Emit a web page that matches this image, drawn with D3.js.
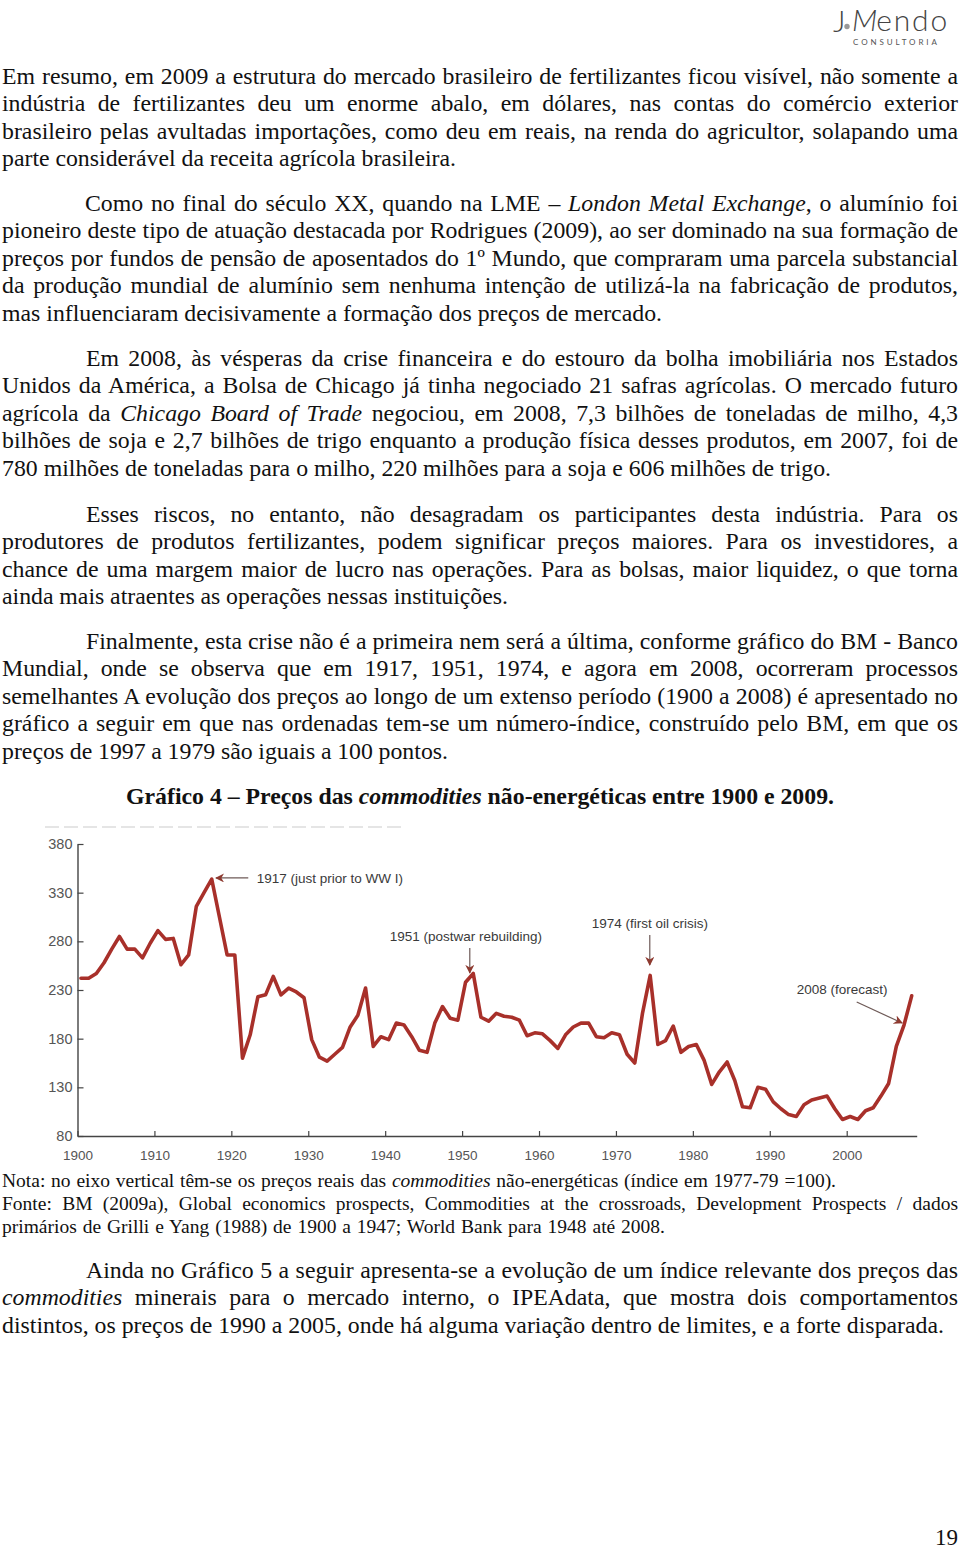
<!DOCTYPE html>
<html><head><meta charset="utf-8">
<script src="https://cdn.jsdelivr.net/npm/d3@7"></script>
<style>html,body{margin:0;padding:0;background:#fff;} svg{display:block;}</style>
</head><body>
<svg id="page" width="960" height="1550"></svg>
<script>
// ---------- DATA ----------
const startYear = 1900;
const priceIndex = [
 242,242,247,258,272,285,272,272,263,278,
 291,282,283,256,266,316,330,344,305,266,
 266,160,184,223,225,244,225,232,228,222,
 179,161,157,164,171,192,204,232,172,182,
 179,196,194,182,168,166,196,213,201,199,
 238,247,202,198,206,203,202,199,183,186,
 185,178,170,184,192,196,196,182,181,186,
 184,164,155,206,245,174,178,193,166,172,
 174,158,133,146,156,137,110,109,130,128,
 115,108,102,100,112,117,119,121,108,97,
 100,97,106,109,121,134,172,194,224
];
const yTicks = [80,130,180,230,280,330,380];
const xTicks = [1900,1910,1920,1930,1940,1950,1960,1970,1980,1990,2000];
const annotationLabels = ["1917 (just prior to WW I)","1951 (postwar rebuilding)","1974 (first oil crisis)","2008 (forecast)"];
const annotationText = [[1923.3,339.9],[1940.6,280.4],[1966.85,293.7],[1993.5,225.9]];
const annotationArrows = [[[1922.2,345.1],[1918.0,345.1]],[[1951.0,273.2],[1951.0,247.5]],[[1974.4,286.5],[1974.4,255.7]],[[2001.3,217.7],[2007.2,196.1]]];

const para1 = [
 "Em resumo, em 2009 a estrutura do mercado brasileiro de fertilizantes ficou visível, não somente a",
 "indústria de fertilizantes deu um enorme abalo, em dólares, nas contas do comércio exterior",
 "brasileiro pelas avultadas importações, como deu em reais, na renda do agricultor, solapando uma",
 "parte considerável da receita agrícola brasileira."
];
const para2 = [
 "Como no final do século XX, quando na LME – <i>London Metal Exchange</i>, o alumínio foi",
 "pioneiro deste tipo de atuação destacada por Rodrigues (2009), ao ser dominado na sua formação de",
 "preços por fundos de pensão de aposentados do 1º Mundo, que compraram uma parcela substancial",
 "da produção mundial de alumínio sem nenhuma intenção de utilizá-la na fabricação de produtos,",
 "mas influenciaram decisivamente a formação dos preços de mercado."
];
const para3 = [
 "Em 2008, às vésperas da crise financeira e do estouro da bolha imobiliária nos Estados",
 "Unidos da América, a Bolsa de Chicago já tinha negociado 21 safras agrícolas. O mercado futuro",
 "agrícola da <i>Chicago Board of Trade</i> negociou, em 2008, 7,3 bilhões de toneladas de milho, 4,3",
 "bilhões de soja e 2,7 bilhões de trigo enquanto a produção física desses produtos, em 2007, foi de",
 "780 milhões de toneladas para o milho, 220 milhões para a soja e 606 milhões de trigo."
];
const para4 = [
 "Esses riscos, no entanto, não desagradam os participantes desta indústria. Para os",
 "produtores de produtos fertilizantes, podem significar preços maiores. Para os investidores, a",
 "chance de uma margem maior de lucro nas operações. Para as bolsas, maior liquidez, o que torna",
 "ainda mais atraentes as operações nessas instituições."
];
const para5 = [
 "Finalmente, esta crise não é a primeira nem será a última, conforme gráfico do BM - Banco",
 "Mundial, onde se observa que em 1917, 1951, 1974, e agora em 2008, ocorreram processos",
 "semelhantes A evolução dos preços ao longo de um extenso período (1900 a 2008) é apresentado no",
 "gráfico a seguir em que nas ordenadas tem-se um número-índice, construído pelo BM, em que os",
 "preços de 1997 a 1979 são iguais a 100 pontos."
];
const chartTitle = ["Gráfico 4 – Preços das <i>commodities</i> não-energéticas entre 1900 e 2009."];
const notes = [
 "Nota: no eixo vertical têm-se os preços reais das <i>commodities</i> não-energéticas (índice em 1977-79 =100).",
 "Fonte: BM (2009a), Global economics prospects, Commodities at the crossroads, Development Prospects / dados",
 "primários de Grilli e Yang (1988) de 1900 a 1947; World Bank para 1948 até 2008."
];
const para6 = [
 "Ainda no Gráfico 5 a seguir apresenta-se a evolução de um índice relevante dos preços das",
 "<i>commodities</i> minerais para o mercado interno, o IPEAdata, que mostra dois comportamentos",
 "distintos, os preços de 1990 a 2005, onde há alguma variação dentro de limites, e a forte disparada."
];

// ---------- PAGE ----------
const svg = d3.select("#page");
const serif = "'Liberation Serif','Times New Roman',serif";

function textLine(g, str, x, yb, size, endX, opts = {}) {
  const t = g.append("text").attr("x", x).attr("y", yb)
    .style("font-family", serif).style("font-size", size + "px")
    .style("white-space", "pre").attr("fill", opts.fill || "#111")
    .style("font-weight", opts.bold ? "bold" : "normal");
  str.split(/(<i>.*?<\/i>)/).filter(s => s.length).forEach(p => {
    if (p.startsWith("<i>")) t.append("tspan").style("font-style", "italic").text(p.slice(3, -4));
    else t.append("tspan").text(p);
  });
  const w = t.node().getComputedTextLength();
  const plain = str.replace(/<\/?i>/g, "");
  const spaces = (plain.match(/ /g) || []).length;
  if (endX && spaces) t.style("word-spacing", ((endX - x - w) / spaces) + "px");
  return t;
}

function block(lines, firstX, baseline, step, size, ends, opts) {
  const g = svg.append("g");
  lines.forEach((l, i) => {
    textLine(g, l, i === 0 ? firstX : 2, baseline + i * step, size, ends[i], opts);
  });
}

const J = 956 + 2;
block(para1, 2, 84, 27.45, 23.8, [J, J, J, 456]);
block(para2, 85, 211, 27.45, 23.8, [J, J, J, J, 662]);
block(para3, 86, 366, 27.45, 23.8, [J, J, J, J, 831]);
block(para4, 86, 522, 27.45, 23.8, [J, J, J, 508]);
block(para5, 86, 649, 27.45, 23.8, [J, J, J, J, 448]);
block(chartTitle, 126, 804, 27.45, 23.8, [834], {bold: true});
block(notes, 2, 1187, 23, 19.5, [836, J, 665]);
block(para6, 86, 1278, 27.45, 23.8, [J, J, 944]);

// page number
svg.append("text").attr("x", 958).attr("y", 1545).attr("text-anchor", "end")
  .style("font-family", serif).style("font-size", "23px").attr("fill", "#111").text("19");

// logo
const logo = svg.append("g").attr("fill", "#444").style("font-family", "Lato, 'Open Sans', sans-serif");
logo.append("text").attr("x", 833).attr("y", 31.5).style("font-size", "30px").style("font-weight", 300).text("J");
logo.append("circle").attr("cx", 847).attr("cy", 26.5).attr("r", 2.7).attr("fill", "#999");
const mT = logo.append("text").attr("x", 852).attr("y", 30.5).style("font-size", "30px")
  .style("font-weight", 300).style("font-style", "italic").text("M");
const eT = logo.append("text").attr("y", 30.5).style("font-size", "30px").style("font-weight", 300).text("endo");
{
  const mw = mT.node().getComputedTextLength();
  const ew = eT.node().getComputedTextLength();
  eT.attr("x", 852 + mw - 1);
  const extra = (97 - (mw - 1 + ew)) / 4;
  if (extra > 0) eT.style("letter-spacing", extra + "px");
}
logo.append("text").attr("x", 853).attr("y", 45).style("font-size", "8px").attr("fill", "#555")
  .style("letter-spacing", "2.9px").text("CONSULTORIA");

// ---------- CHART ----------
const x = d3.scaleLinear().domain([1900, 2009.1]).range([77.5, 916.7]);
const y = d3.scaleLinear().domain([80, 380]).range([1136, 844]);
const chart = svg.append("g");

// faint scan line above chart
chart.append("line").attr("x1", 45).attr("x2", 405).attr("y1", 827).attr("y2", 827)
  .attr("stroke", "#ddd").attr("stroke-width", 1.5).attr("stroke-dasharray", "14,5");

const gx = chart.append("g").attr("transform", `translate(0,${y(80)})`)
  .call(d3.axisBottom(x).tickValues(xTicks).tickFormat(d3.format("d")).tickSizeInner(-5).tickSizeOuter(0).tickPadding(14));
const gy = chart.append("g").attr("transform", `translate(${x(1900)},0)`)
  .call(d3.axisLeft(y).tickValues(yTicks).tickSizeInner(-6).tickSizeOuter(0).tickPadding(5));
[gx, gy].forEach(g => {
  g.attr("font-family", null).attr("font-size", null);
  g.select(".domain").attr("stroke", "#444").attr("stroke-width", 1.4);
  g.selectAll(".tick line").attr("stroke", "#444").attr("stroke-width", 1.2);
  g.selectAll(".tick text").attr("fill", "#555").style("font-family", "'Liberation Sans', Arial, sans-serif");
});
gx.selectAll(".tick text").style("font-size", "13.5px");
gy.selectAll(".tick text").style("font-size", "14.5px");

const line = d3.line().x((d, i) => x(startYear + i + 0.45)).y(d => y(d));
chart.append("path").datum(priceIndex).attr("d", line).attr("fill", "none")
  .attr("stroke", "#a8302a").attr("stroke-width", 3.6).attr("stroke-linejoin", "round").attr("stroke-linecap", "round");

// arrows
svg.append("defs").append("marker").attr("id", "ah").attr("viewBox", "0 0 10 10")
  .attr("refX", 9).attr("refY", 5).attr("markerWidth", 9).attr("markerHeight", 9)
  .attr("markerUnits", "userSpaceOnUse").attr("orient", "auto")
  .append("path").attr("d", "M0,0 L10,5 L0,10 L3,5 Z").attr("fill", "#8e3a30");
annotationArrows.forEach(a => {
  chart.append("line").attr("x1", x(a[0][0])).attr("y1", y(a[0][1]))
    .attr("x2", x(a[1][0])).attr("y2", y(a[1][1]))
    .attr("stroke", "#6e5a57").attr("stroke-width", 1.2).attr("marker-end", "url(#ah)");
});
annotationLabels.forEach((lab, i) => {
  chart.append("text").attr("x", x(annotationText[i][0])).attr("y", y(annotationText[i][1]))
    .style("font-family", "'Liberation Sans', Arial, sans-serif").style("font-size", "13.5px")
    .attr("fill", "#3a3a3a").text(lab);
});
</script>
</body></html>
